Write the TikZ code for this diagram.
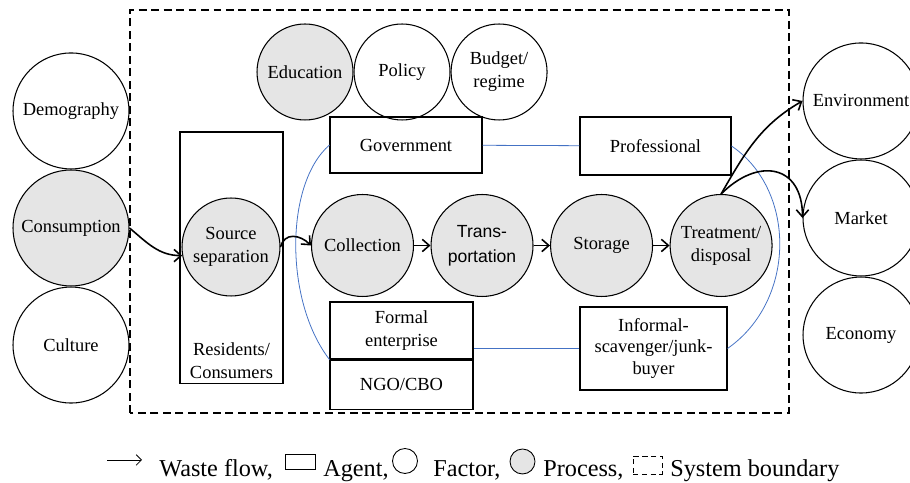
\documentclass[tikz,border=0pt]{standalone}
\usepackage{fontspec}
\setmainfont{Liberation Serif}
\newfontfamily\transfont{Liberation Sans}
\usetikzlibrary{positioning,arrows.meta}
\definecolor{procgray}{gray}{0.9}
\definecolor{linkblue}{RGB}{68,114,196}
\tikzstyle{factor}=[circle, draw, line width=0.6pt, inner sep=0pt, minimum size=2.32cm, align=center]
\tikzstyle{process}=[factor, fill=procgray, minimum size=2.04cm]
\tikzstyle{agent}=[draw, line width=0.6pt, align=center]
\tikzstyle{flow}=[line width=0.9pt, -{Straight Barb[length=4pt,width=7pt]}]
\tikzstyle{link}=[linkblue, line width=0.45pt]
\tikzstyle{boundary}=[line width=1.2pt, dash pattern=on 4.5pt off 2.6pt]
\tikzstyle{legend}=[anchor=base west, inner sep=0pt, font=\fontsize{13.8}{16}\selectfont]

\begin{document}
\begin{tikzpicture}[x=0.02cm, y=0.02cm, node distance=0pt, font=\fontsize{10.5}{13}\selectfont]
\useasboundingbox (0,0) rectangle (910,483);
% system boundary
\draw[boundary] (130,70) rectangle (789,473);
% factors outside the system
\node (cons) [process, minimum size=2.32cm] at (71,255) {Consumption};
\node (dem) [factor, above=of cons] {Demography};
\node (cult) [factor, below=of cons] {Culture};
\node (mkt) [factor] at (861,265) {Market};
\node (env) [factor, above=of mkt] {Environment};
\node (eco) [factor, below=of mkt] {Economy};
% factors inside
\node (edu) [factor, fill=procgray, minimum size=1.92cm] at (305,411) {Education};
\node (pol) [factor, minimum size=1.92cm, right=of edu] {Policy};
\node (bud) [factor, minimum size=1.92cm, right=of pol] {Budget/\\regime};
% agents
\node (res) [agent, minimum width=2.06cm, minimum height=5.04cm,
  label={[align=center, anchor=south, inner sep=3pt]south:{Residents/\\Consumers}}] at (231.5,225) {};
\node (gov) [agent, minimum width=3.04cm, minimum height=1.12cm] at (406,338) {Government};
\node (prof) [agent, minimum width=3.02cm, minimum height=1.16cm] at (655.5,337) {Professional};
\node (fe) [agent, minimum width=2.86cm, minimum height=1.14cm] at (401.5,152.5) {Formal\\enterprise};
\node (ngo) [agent, minimum width=2.86cm, minimum height=0.98cm, below=of fe] {NGO/CBO};
\node (inf) [agent, minimum width=2.94cm, minimum height=1.66cm, font=\fontsize{10.5}{12.5}\selectfont]
  at (653.5,134.5) {Informal-\\scavenger/junk-\\buyer};
% processes
\node (src) [process, minimum size=1.96cm] at (231,236) {Source\\separation};
\node (col) [process] at (362.5,237.5) {Collection};
\node (trn) [process, right=0.33cm of col, font=\transfont\fontsize{10}{14}\selectfont] {Trans-\\portation};
\node (sto) [process, right=0.33cm of trn] {Storage};
\node (trt) [process, right=0.33cm of sto] {Treatment/\\disposal};
% links between agents
\draw[link] (gov.west) .. controls +(-45,-39) and +(-45,58) .. (fe.south west);
\draw[link] (prof.east) .. controls +(65,-44) and +(69,48) .. (inf.east);
\draw[link] (gov) -- (prof);
\draw[link] (inf.west) -- (inf.west -| fe.east);
% waste flow
\path[flow]
	(cons.east) edge[out=-40, in=180] (src.190)
	(src.east) edge[out=75, in=135, looseness=1.3] (col.west)
	(col) edge (trn)
	(trn) edge (sto)
	(sto) edge (trt)
	(trt.north) edge[out=60, in=210] (env.west)
	(trt.north) edge[out=45, in=90, looseness=1.6] (mkt.west);
% legend
\coordinate (la) at (107,23);
\coordinate (lb) at (142,23);
\draw[line width=0.5pt, -{Straight Barb[length=3pt,width=6pt]}] (la) -- (lb);
\node (lflow) [legend] at (159,6) {Waste flow,};
\node (lagent) [draw, line width=0.5pt, minimum width=0.6cm, minimum height=0.3cm] at (300,21.5) {};
\node (ltagent) [legend] at (323,6) {Agent,};
\node (lfactor) [circle, draw, line width=0.5pt, inner sep=0pt, minimum size=0.5cm] at (405,22) {};
\node (ltfactor) [legend] at (433,6) {Factor,};
\node (lproc) [circle, draw, fill=procgray, line width=0.5pt, inner sep=0pt, minimum size=0.5cm] at (522.5,21.5) {};
\node (ltproc) [legend] at (543,6) {Process,};
\node (lbound) [draw, densely dashed, line width=0.5pt, minimum width=0.58cm, minimum height=0.36cm] at (647.5,18) {};
\node (ltbound) [legend] at (670,6) {System boundary};
\end{tikzpicture}
\end{document}
